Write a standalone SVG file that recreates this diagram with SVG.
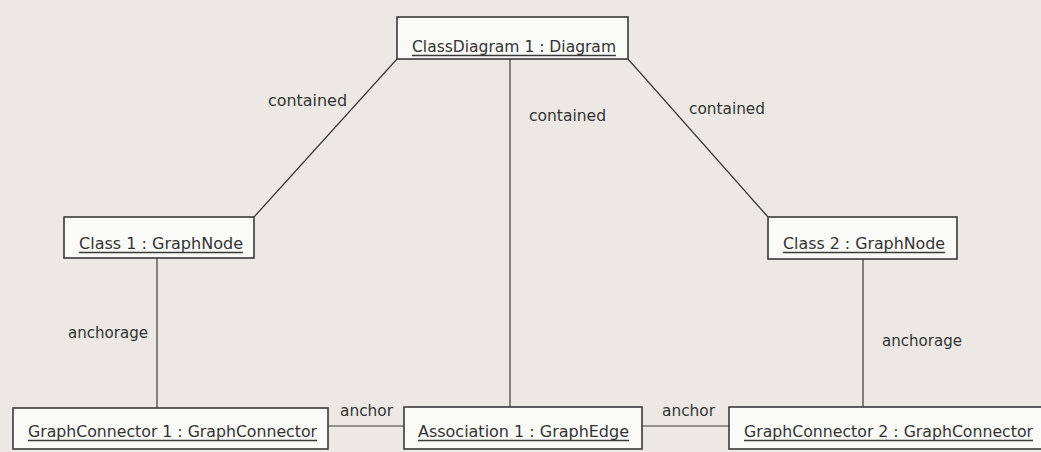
<svg xmlns="http://www.w3.org/2000/svg" width="1041" height="452" viewBox="0 0 1041 452">
<style>
.bg{fill:#ECE9E5}
.box{fill:#FAFAF8;stroke:#3a3a3a;stroke-width:1.6}
.ln{stroke:#3a3a3a;stroke-width:1.2;fill:none}
.ul{stroke:#3a3a3a;stroke-width:1.3}
text{font-family:"DejaVu Sans Condensed","DejaVu Sans",sans-serif;font-size:16px;fill:#333;font-stretch:condensed}
</style>
<rect class="bg" x="0" y="0" width="1041" height="452"/>
<g id="connectors">
<line class="ln" x1="397" y1="59" x2="254" y2="217"/>
<line class="ln" x1="510" y1="59" x2="510" y2="407"/>
<line class="ln" x1="628" y1="59" x2="768" y2="217"/>
<line class="ln" x1="157" y1="258" x2="157" y2="408"/>
<line class="ln" x1="863" y1="259" x2="863" y2="407"/>
<line class="ln" x1="328" y1="426" x2="404" y2="426"/>
<line class="ln" x1="642" y1="426" x2="729" y2="426"/>
<text x="268" y="106" textLength="79" lengthAdjust="spacingAndGlyphs">contained</text>
<text x="529" y="121" textLength="77" lengthAdjust="spacingAndGlyphs">contained</text>
<text x="689" y="114" textLength="76" lengthAdjust="spacingAndGlyphs">contained</text>
<text x="68" y="338" textLength="80" lengthAdjust="spacingAndGlyphs">anchorage</text>
<text x="882" y="346" textLength="80" lengthAdjust="spacingAndGlyphs">anchorage</text>
<text x="340" y="416" textLength="53" lengthAdjust="spacingAndGlyphs">anchor</text>
<text x="662" y="416" textLength="53" lengthAdjust="spacingAndGlyphs">anchor</text>
</g>
<g id="classdiagram">
<rect class="box" x="397" y="17" width="231" height="42"/>
<text x="412" y="52" textLength="204" lengthAdjust="spacingAndGlyphs">ClassDiagram  1 : Diagram</text>
<line class="ul" x1="412" y1="55.5" x2="616" y2="55.5"/>
</g>
<g id="class1">
<rect class="box" x="64" y="217" width="190" height="41"/>
<text x="79" y="249" textLength="164" lengthAdjust="spacingAndGlyphs">Class  1 : GraphNode</text>
<line class="ul" x1="79" y1="252.5" x2="243" y2="252.5"/>
</g>
<g id="class2">
<rect class="box" x="768" y="217" width="189" height="42"/>
<text x="783" y="249" textLength="162" lengthAdjust="spacingAndGlyphs">Class  2 : GraphNode</text>
<line class="ul" x1="783" y1="252.5" x2="945" y2="252.5"/>
</g>
<g id="graphconnector1">
<rect class="box" x="13" y="408" width="315" height="41"/>
<text x="28" y="437" textLength="289" lengthAdjust="spacingAndGlyphs">GraphConnector  1 : GraphConnector</text>
<line class="ul" x1="28" y1="440.5" x2="317" y2="440.5"/>
</g>
<g id="association1">
<rect class="box" x="404" y="407" width="238" height="42"/>
<text x="418" y="437" textLength="211" lengthAdjust="spacingAndGlyphs">Association  1 : GraphEdge</text>
<line class="ul" x1="418" y1="440.5" x2="629" y2="440.5"/>
</g>
<g id="graphconnector2">
<rect class="box" x="729" y="407" width="320" height="42"/>
<text x="744" y="437" textLength="289" lengthAdjust="spacingAndGlyphs">GraphConnector  2 : GraphConnector</text>
<line class="ul" x1="744" y1="440.5" x2="1033" y2="440.5"/>
</g>
</svg>
